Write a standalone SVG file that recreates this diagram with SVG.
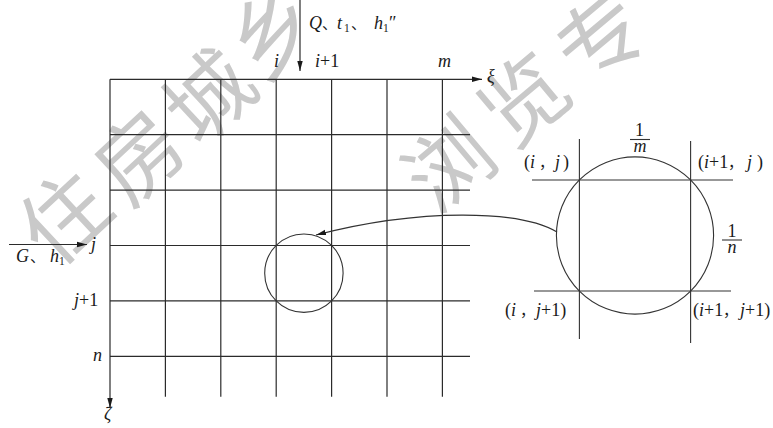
<svg xmlns="http://www.w3.org/2000/svg" width="773" height="428" viewBox="0 0 773 428">
<style>
.wm{font-family:"Noto Sans CJK SC","Noto Sans",sans-serif;font-size:86px;fill:#c9c9c9;text-anchor:middle;dominant-baseline:central}
.ln{stroke:#2b2b2b;stroke-width:1.2;fill:none}
.thin{stroke:#333;stroke-width:1.1;fill:none}
.t{font-family:"Liberation Serif","DejaVu Serif","Times New Roman",serif;font-size:18px;fill:#1a1a1a}
.i{font-style:italic}
.cjk{font-family:"Noto Sans CJK SC",sans-serif;font-size:15px}
.sub{font-size:11.5px}
</style>
<defs>
<marker id="ah" markerUnits="userSpaceOnUse" markerWidth="11" markerHeight="7" refX="10" refY="3.5" orient="auto">
<path d="M0,0.8 L10,3.5 L0,6.2 z" fill="#1a1a1a"/>
</marker>
</defs>
<g id="watermark">
<text class="wm" transform="translate(60,213) rotate(-43)">住</text>
<text class="wm" transform="translate(135,152) rotate(-43)">房</text>
<text class="wm" transform="translate(205,92) rotate(-43)">城</text>
<text class="wm" transform="translate(268,28) rotate(-43)">乡</text>
<text class="wm" transform="translate(445,160) rotate(-40)">浏</text>
<text class="wm" transform="translate(520,95) rotate(-40)">览</text>
<text class="wm" transform="translate(597,34) rotate(-40)">专</text>
</g>
<g id="grid">
<line class="ln" x1="110" y1="79.3" x2="110" y2="408" marker-end="url(#ah)"/>
<line class="ln" x1="165.4" y1="79.3" x2="165.4" y2="396.7"/>
<line class="ln" x1="220.8" y1="79.3" x2="220.8" y2="396.7"/>
<line class="ln" x1="276.2" y1="79.3" x2="276.2" y2="396.7"/>
<line class="ln" x1="331.6" y1="79.3" x2="331.6" y2="396.7"/>
<line class="ln" x1="387" y1="79.3" x2="387" y2="396.7"/>
<line class="ln" x1="442.4" y1="79.3" x2="442.4" y2="396.7"/>
<line class="ln" x1="110" y1="79.3" x2="482" y2="79.3" marker-end="url(#ah)"/>
<line class="ln" x1="110" y1="134.7" x2="470" y2="134.7"/>
<line class="ln" x1="110" y1="190.1" x2="470" y2="190.1"/>
<line class="ln" x1="110" y1="245.5" x2="470" y2="245.5"/>
<line class="ln" x1="110" y1="300.9" x2="470" y2="300.9"/>
<line class="ln" x1="110" y1="356.3" x2="470" y2="356.3"/>
<circle class="thin" cx="303.9" cy="273.2" r="39.2"/>
</g>
<g id="detail">
<circle class="thin" cx="635" cy="235.5" r="78.6"/>
<line class="thin" x1="532" y1="180" x2="733" y2="180"/>
<line class="thin" x1="534" y1="291" x2="731" y2="291"/>
<line class="thin" x1="579.4" y1="139" x2="579.4" y2="339"/>
<line class="thin" x1="690.6" y1="141" x2="690.6" y2="343"/>
<line class="thin" x1="630" y1="139.5" x2="650" y2="139.5"/>
<line class="thin" x1="722" y1="240" x2="742" y2="240"/>
</g>
<g id="connectors">
<line class="ln" x1="300" y1="0" x2="300" y2="71" marker-end="url(#ah)"/>
<line class="ln" x1="9" y1="244.5" x2="87" y2="244.5" marker-end="url(#ah)"/>
<path class="thin" d="M557,232 C520,210 420,208 316,235" marker-end="url(#ah)"/>
</g>
<g id="labels">
<text class="t" y="29"><tspan class="i" x="309">Q</tspan><tspan class="cjk" x="322">、</tspan><tspan class="i" x="337">t</tspan><tspan class="sub" x="344" dy="3">1</tspan><tspan class="cjk" x="351" dy="-3">、</tspan><tspan class="i" x="374">h</tspan><tspan class="sub" x="383" dy="3">1</tspan><tspan x="389" dy="-3">″</tspan></text>
<text class="t i" x="274" y="67">i</text>
<text class="t" x="315" y="67"><tspan class="i">i</tspan>+1</text>
<text class="t i" x="438" y="67">m</text>
<text class="t i" x="487" y="82">ξ</text>
<text class="t" y="262"><tspan class="i" x="16">G</tspan><tspan class="cjk" x="30">、</tspan><tspan class="i" x="50">h</tspan><tspan class="sub" x="59" dy="3">1</tspan></text>
<text class="t i" x="91" y="250">j</text>
<text class="t" x="74" y="306"><tspan class="i">j</tspan>+1</text>
<text class="t i" x="93" y="361">n</text>
<text class="t i" x="104" y="420">ζ</text>
<text class="t" x="639.5" y="136" text-anchor="middle">1</text>
<text class="t i" x="640" y="152" text-anchor="middle">m</text>
<text class="t" x="732" y="236.5" text-anchor="middle">1</text>
<text class="t i" x="732" y="253" text-anchor="middle">n</text>
<text class="t" y="168"><tspan x="524">(</tspan><tspan class="i" x="530">i</tspan><tspan class="cjk" x="539">，</tspan><tspan class="i" x="555">j</tspan><tspan x="563">)</tspan></text>
<text class="t" y="168"><tspan x="698">(</tspan><tspan class="i">i</tspan>+1<tspan class="cjk" x="728">，</tspan><tspan class="i" x="747">j</tspan><tspan x="757">)</tspan></text>
<text class="t" y="316"><tspan x="505">(</tspan><tspan class="i" x="511">i</tspan><tspan class="cjk" x="520">，</tspan><tspan class="i" x="536">j</tspan>+1<tspan>)</tspan></text>
<text class="t" y="316"><tspan x="693">(</tspan><tspan class="i">i</tspan>+1<tspan class="cjk" x="723">，</tspan><tspan class="i" x="740">j</tspan>+1<tspan>)</tspan></text>
</g>
</svg>
